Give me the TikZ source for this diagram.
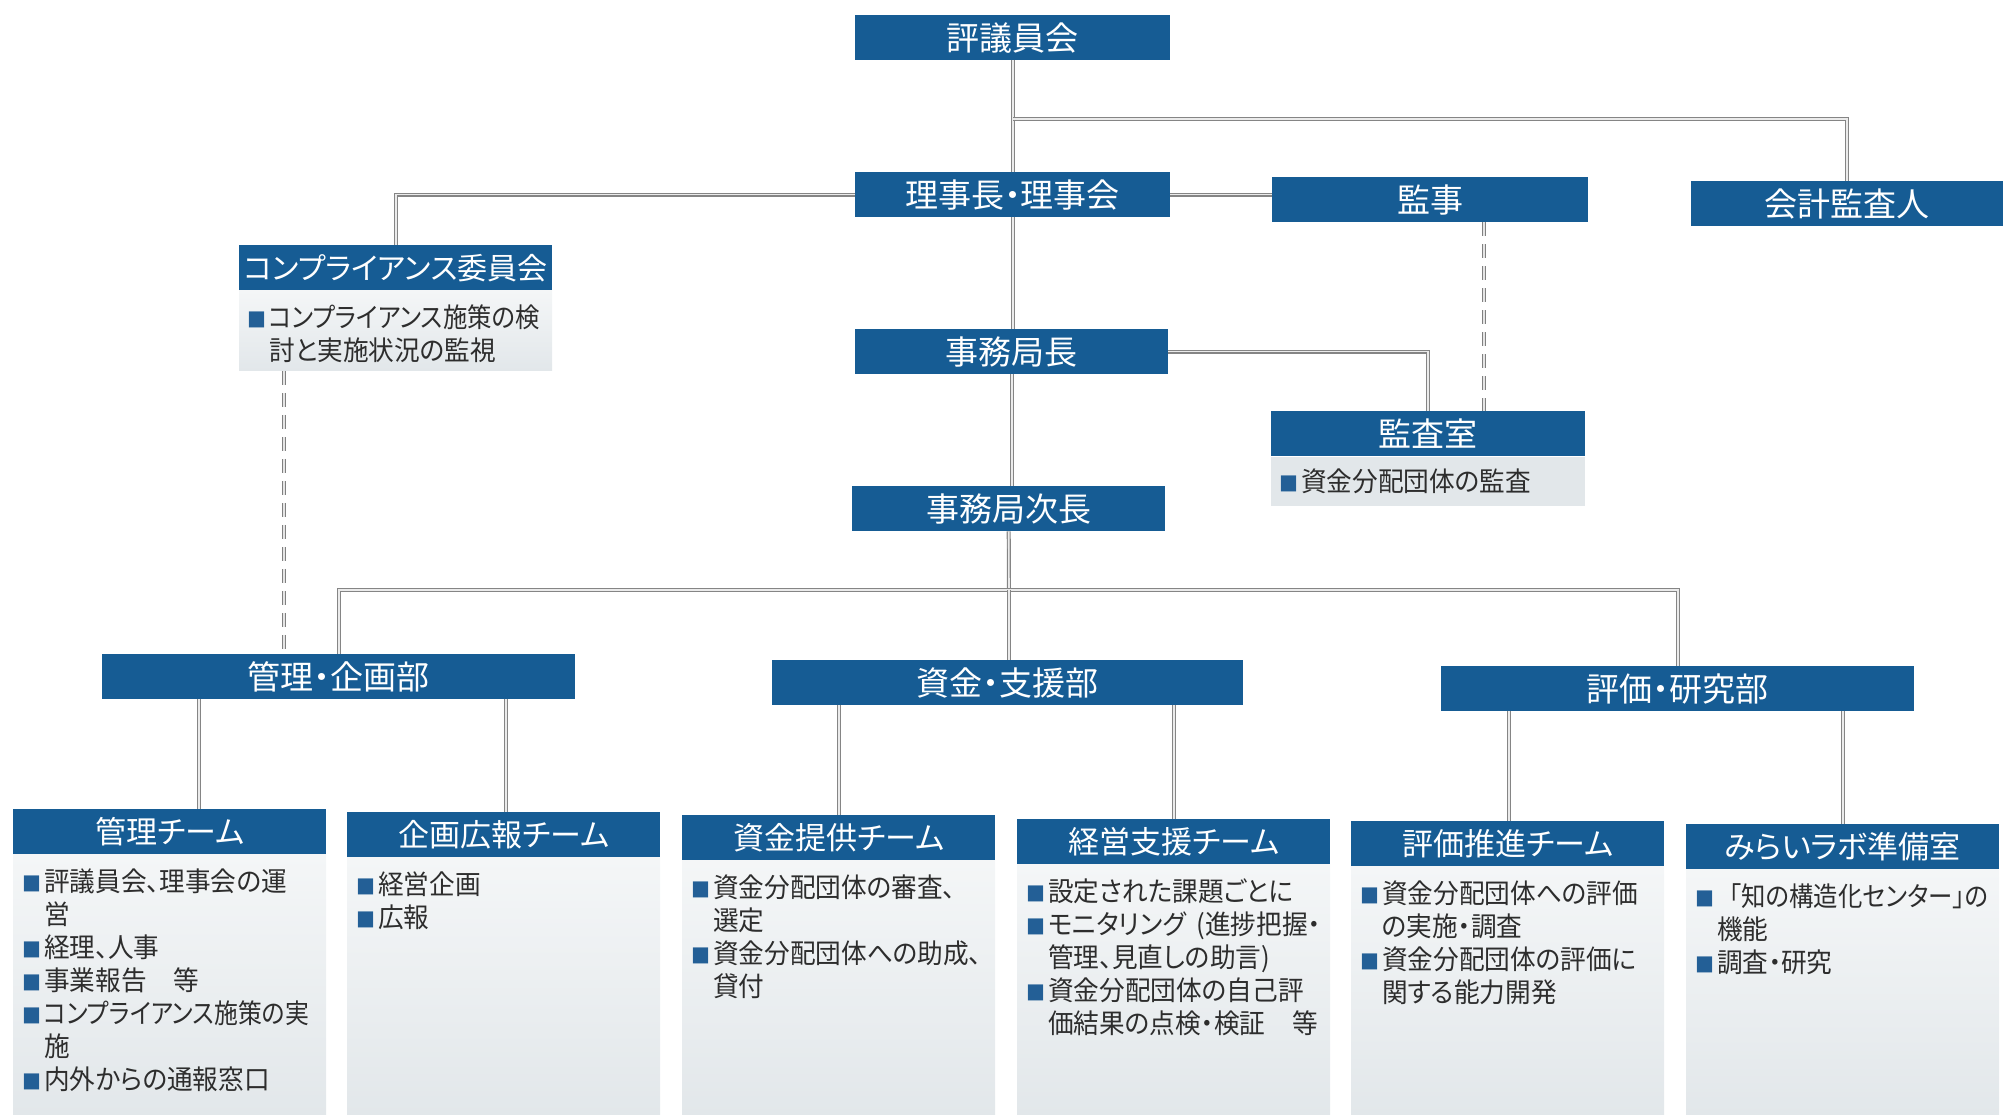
\documentclass[tikz,border=0pt]{standalone}
\usepackage{fontspec}
\newfontfamily\jphead[RawFeature={+palt}]{Noto Sans CJK JP}
\newfontfamily\jpbody[FakeStretch=0.95,RawFeature={+palt}]{Noto Sans CJK JP}
\newfontfamily\jpbodyfw[FakeStretch=0.95]{Noto Sans CJK JP}
\definecolor{hblue}{RGB}{22,92,148}
\definecolor{bulc}{RGB}{35,95,150}
\definecolor{btext}{RGB}{45,45,45}
\definecolor{lgray}{RGB}{226,231,234}
\definecolor{lgtop}{RGB}{244,246,247}
\newcommand\jbul{\makebox[22pt][l]{\fontsize{20}{20}\selectfont\color{bulc}■}}
\newcommand\jind{\hspace*{22pt}}
\newcommand\jsq[2]{\scalebox{#1}[1]{#2}}
\tikzset{
  hdr/.style={fill=hblue, text=white, inner sep=0pt, anchor=north west,
    font=\jphead\fontsize{33}{33}\selectfont, minimum height=45pt},
  thdr/.style={hdr, font=\jphead\fontsize{31}{31}\selectfont, minimum width=313pt},
  tbody/.style={anchor=north west, inner sep=0pt, minimum width=313pt,
    top color=lgtop, bottom color=lgray, draw=none},
  btxt/.style={anchor=north west, inner sep=0pt, align=left, text=btext,
    font=\jpbody\fontsize{27}{33}\selectfont},
  conn/.style={draw=black!48, double=black!8, double distance=1.6pt, line width=1.2pt},
  dline/.style={draw=black!50, double=black!10, double distance=1.2pt, line width=1pt,
    dash pattern=on 14pt off 8pt}
}
\begin{document}
\begin{tikzpicture}[x=1pt,y=-1pt]
\useasboundingbox (0,0) rectangle (2003,1115);
% top level
\node[hdr, minimum width=315pt] (hyogi) at (855,15) {評議員会};
\node[hdr, minimum width=315pt] (riji) at (855,172) {理事長・理事会};
\node[hdr, minimum width=316pt] (kanji) at (1272,177) {監事};
\node[hdr, minimum width=312pt] (kaikei) at (1691,181) {会計監査人};
\node[hdr, minimum width=313pt, font=\jphead\fontsize{30}{30}\selectfont] (comp) at (239,245) {コンプライアンス委員会};
\node[anchor=north west, inner sep=0pt, minimum width=313pt, minimum height=80pt,
  top color=lgtop, bottom color=lgray] (compb) at (comp.south west) {};
\node[btxt] (compt) at ([shift={(8,14)}]compb.north west)
  {\jbul\jsq{0.95}{コンプライアンス施策の検}\\\jind 討と実施状況の監視};
\node[hdr, minimum width=313pt] (jcho) at (855,329) {事務局長};
\node[hdr, minimum width=314pt] (kansa) at (1271,411) {監査室};
\node[anchor=north west, inner sep=0pt, minimum width=314pt, minimum height=49pt,
  fill=lgray] (kansab) at (kansa.south west) {};
\node[btxt] (kansat) at ([shift={(8,12)}]kansab.north west) {\jbul 資金分配団体の監査};
\node[hdr, minimum width=313pt] (jicho) at (852,486) {事務局次長};
% departments
\node[hdr, minimum width=473pt] (kbu) at (102,654) {管理・企画部};
\node[hdr, minimum width=471pt] (sbu) at (772,660) {資金・支援部};
\node[hdr, minimum width=473pt] (hbu) at (1441,666) {評価・研究部};
% teams
\node[thdr] (t1) at (13,809) {管理チーム};
\node[thdr] (t2) at (347,812) {企画広報チーム};
\node[thdr] (t3) at (682,815) {資金提供チーム};
\node[thdr] (t4) at (1017,819) {経営支援チーム};
\node[thdr] (t5) at (1351,821) {評価推進チーム};
\node[thdr] (t6) at (1686,824) {みらいラボ準備室};
\node[tbody, minimum height=262pt] (b1) at (t1.south west) {};
\node[tbody, minimum height=259pt] (b2) at (t2.south west) {};
\node[tbody, minimum height=256pt] (b3) at (t3.south west) {};
\node[tbody, minimum height=252pt] (b4) at (t4.south west) {};
\node[tbody, minimum height=250pt] (b5) at (t5.south west) {};
\node[tbody, minimum height=247pt] (b6) at (t6.south west) {};
\node[btxt] (bt1) at ([shift={(9,14)}]b1.north west)
  {\jbul 評議員会、理事会の運\\\jind 営\\\jbul 経理、人事\\\jbul 事業報告\hspace{1em}等\\\jbul\jsq{0.93}{コンプライアンス施策の実}\\\jind 施\\\jbul 内外からの通報窓口};
\node[btxt] (bt2) at ([shift={(9,14)}]b2.north west)
  {\jbul 経営企画\\\jbul 広報};
\node[btxt] (bt3) at ([shift={(9,14)}]b3.north west)
  {\jbul 資金分配団体の審査、\\\jind 選定\\\jbul 資金分配団体への助成、\\\jind 貸付};
\node[btxt] (bt4) at ([shift={(9,14)}]b4.north west)
  {\jbul 設定された課題ごとに\\\jbul モニタリング\hspace{0.4em}(進捗把握・\\\jind 管理、見直しの助言)\\\jbul 資金分配団体の自己評\\\jind 価結果の点検・検証\hspace{1em}等};
\node[btxt] (bt5) at ([shift={(9,14)}]b5.north west)
  {\jbul 資金分配団体への評価\\\jind の実施・調査\\\jbul 資金分配団体の評価に\\\jind 関する能力開発};
\node[btxt] (bt6) at ([shift={(9,14)}]b6.north west)
  {\jbul\jsq{0.95}{{\jpbodyfw 「}知の構造化センター」の}\\\jind 機能\\\jbul 調査・研究};
% connectors
\coordinate (br) at (1013,119);
\coordinate (kd) at (1484,0);
\coordinate (cd) at (284,0);
\coordinate (bb) at (1009,590);
\coordinate (x1) at (199,0);
\coordinate (x2) at (506,0);
\coordinate (x3) at (839,0);
\coordinate (x4) at (1174,0);
\coordinate (x5) at (1509,0);
\coordinate (x6) at (1843,0);
\draw[conn] (hyogi.south) -- (riji.north);
\draw[conn] (br) -| (kaikei.north);
\draw[conn] (riji.east) -- (riji.east -| kanji.west);
\draw[conn] (riji.west) -| (comp.north);
\draw[conn] (riji.south) -- (riji.south |- jcho.north);
\draw[conn] (jcho.east) -| (kansa.north);
\draw[dline] (kd |- kanji.south) -- (kd |- kansa.north);
\draw[dline] (cd |- compb.south) -- (cd |- kbu.north);
\draw[conn] (jcho.south) -- (jcho.south |- jicho.north);
\draw[conn] (jicho.south) -- (bb);
\draw[conn] (kbu.north) -- (kbu.north |- bb) -- (hbu.north |- bb) -- (hbu.north);
\draw[conn] (bb) -- (bb |- sbu.north);
\draw[conn] (x1 |- kbu.south) -- (x1 |- t1.north);
\draw[conn] (x2 |- kbu.south) -- (x2 |- t2.north);
\draw[conn] (x3 |- sbu.south) -- (x3 |- t3.north);
\draw[conn] (x4 |- sbu.south) -- (x4 |- t4.north);
\draw[conn] (x5 |- hbu.south) -- (x5 |- t5.north);
\draw[conn] (x6 |- hbu.south) -- (x6 |- t6.north);
\end{tikzpicture}
\end{document}
